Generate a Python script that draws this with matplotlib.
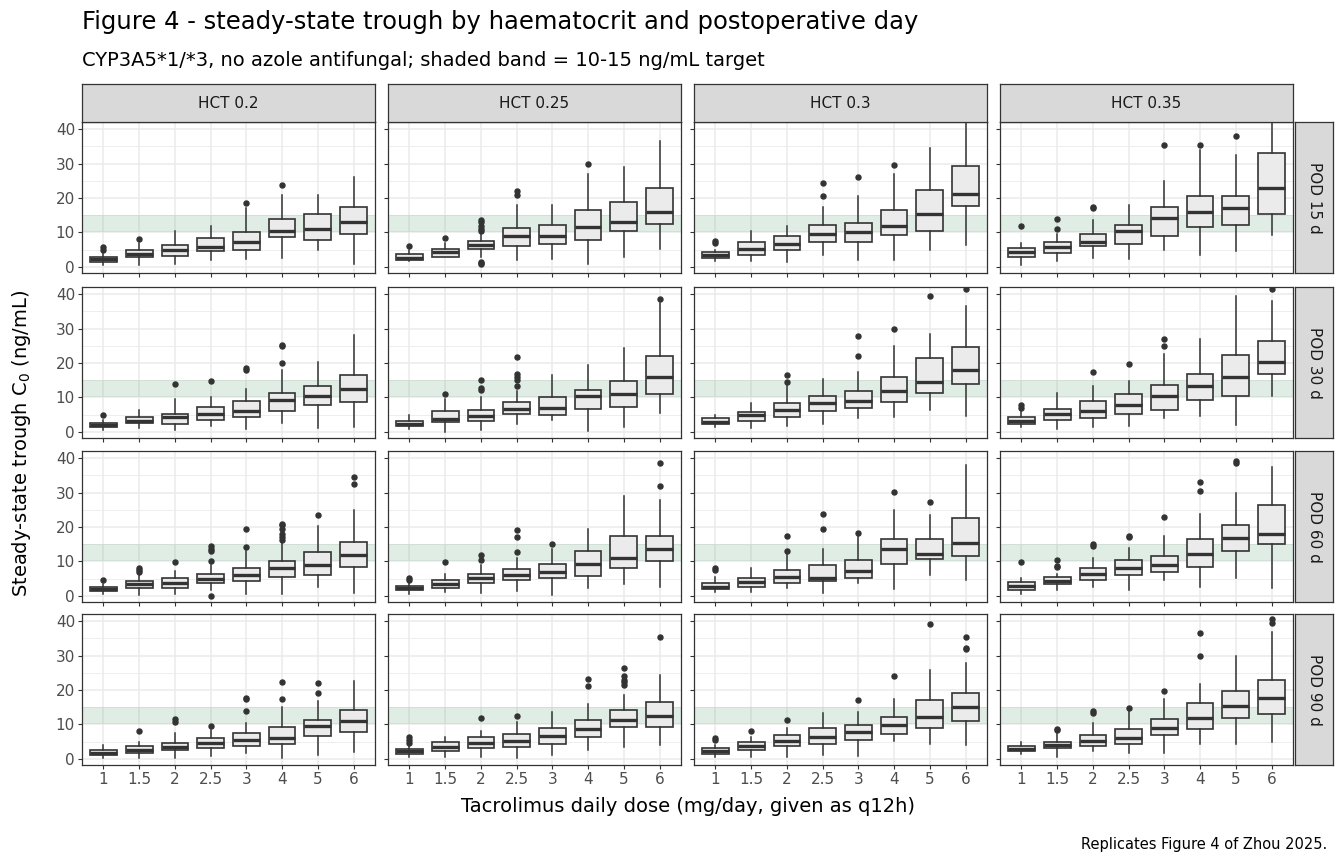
import matplotlib.pyplot as plt

W, H = 1344, 864

doses = ["1", "1.5", "2", "2.5", "3", "4", "5", "6"]
hcts = ["HCT 0.2", "HCT 0.25", "HCT 0.3", "HCT 0.35"]
pods = ["POD 15 d", "POD 30 d", "POD 60 d", "POD 90 d"]

# per panel: 8 boxes of (whisker low, q1, median, q3, whisker high), then outliers per box
pod15_hct020 = [(0.7, 1.5, 2.2, 3, 4.5), (0.5, 2.8, 3.8, 4.8, 7), (1, 3.3, 5, 6.5, 10.5), (2, 4.5, 5.8, 8.5, 12),
                (2.3, 5, 7.2, 10, 17), (2.5, 8.7, 10.5, 14, 21), (5, 7.8, 11, 15.5, 21), (0.8, 9.5, 13, 17.5, 26)]
pod15_hct020_out = [[5, 5.7], [8], [], [], [18.5], [23.8], [], []]
pod15_hct025 = [(1.8, 2, 2.7, 3.8, 5), (3, 3, 4.2, 5.2, 7), (3, 5.3, 6.3, 7.5, 9.5), (2, 6, 9, 11.2, 18),
                (2.3, 6.7, 9, 12.3, 18), (1, 7.8, 11.5, 16.5, 27), (2.8, 10.5, 13, 18.7, 29), (5.2, 12.5, 15.8, 23, 36.5)]
pod15_hct025_out = [[6.2], [8.5], [0.8, 1.2, 1.5, 10.5, 11, 12, 13, 13.5], [21, 22], [], [29.8], [], []]
pod15_hct030 = [(1.8, 2.6, 3.4, 4.2, 5), (1.8, 3.6, 5.3, 7.3, 10.3), (1.5, 4.8, 6.8, 9, 12), (3.5, 7.3, 9.5, 12.3, 17.5),
                (2, 7.1, 10.2, 12.7, 20.5), (2, 9.4, 12, 16.6, 27), (5, 10.4, 15.3, 22.2, 34.5), (6.4, 17.6, 21.3, 29.3, 45)]
pod15_hct030_out = [[7, 7.5], [], [], [20.5, 24.5], [26], [29.5], [], []]
pod15_hct035 = [(0.7, 3, 4.4, 5.5, 7), (1.7, 4.1, 5.9, 7.1, 9.5), (2.7, 6, 7.3, 9.7, 13.5), (2.3, 6.8, 10.5, 12.3, 18),
                (4.8, 8.9, 14.1, 17.4, 25), (3.5, 11.5, 16, 20.6, 34), (4.7, 12.3, 17, 20.6, 32.5), (9.4, 15.5, 23, 33.2, 45)]
pod15_hct035_out = [[12], [11, 14], [17, 17.5], [], [35.5], [35.5], [38], []]

pod30_hct020 = [(0.5, 1.3, 2, 2.7, 3.5), (1.2, 2.6, 3.3, 4.2, 6.3), (0.7, 2.4, 4.3, 5.3, 9.5), (1.8, 3.6, 5.2, 7.3, 10),
                (0.8, 4.4, 6, 8.9, 12.5), (2.5, 6.1, 9.3, 11.2, 18), (1.2, 7.8, 10.5, 13.3, 20.3), (1.3, 8.7, 12.6, 16.6, 28)]
pod30_hct020_out = [[4.8], [], [13.8], [14.7], [18, 18.5], [20, 24.8, 25.3], [], []]
pod30_hct025 = [(1, 1.6, 2.3, 3.2, 5), (0, 2.8, 3.9, 6, 9.5), (0.5, 3.2, 4.7, 6.5, 10), (2.3, 5.3, 6.8, 8.7, 12),
                (3.5, 5, 7, 10, 16.5), (0.2, 6.6, 10.4, 12.1, 19.5), (1.5, 7.3, 11, 14.8, 24.3), (5.5, 11, 15.8, 22, 37.4)]
pod30_hct025_out = [[], [11], [12.3, 12.8, 15], [13.3, 15, 16, 16.7, 21.7], [], [], [], [38.7]]
pod30_hct030 = [(1.5, 2.2, 3, 4.1, 5), (1.2, 3.2, 4.8, 5.8, 8.5), (1.8, 4.4, 6.4, 8.4, 13.5), (2.3, 6, 8.3, 10.5, 15.5),
                (4, 7, 9, 11.8, 17.5), (4.2, 8.7, 12, 16, 25), (6.5, 11.2, 14.5, 21.5, 28.5), (4.7, 13.8, 18, 24.7, 36.5)]
pod30_hct030_out = [[], [], [14.5, 16.5], [], [22, 27.8], [30], [39.3], [41.5]]
pod30_hct035 = [(1.3, 2.4, 3.2, 4.3, 6), (0.9, 3.4, 5.2, 6.8, 11.3), (1.4, 4.1, 6, 9, 13.4), (1.6, 5.3, 7.8, 11, 14.8),
                (4, 6.4, 10.5, 13.7, 22.5), (4.7, 9.2, 13.3, 16.9, 27), (2, 10.4, 15.8, 22.2, 39.5), (10.3, 16.8, 20.3, 26.4, 38)]
pod30_hct035_out = [[7, 7.8], [], [17.5], [19.6], [25, 27], [], [], [41.5]]

pod60_hct020 = [(0.7, 1.3, 2, 2.6, 3.5), (0.4, 2.3, 3.4, 4.4, 6.5), (0.7, 2.2, 3.9, 5.1, 7.3), (1.7, 3.7, 4.8, 6.4, 9),
                (0.7, 4.2, 6.1, 8.2, 13), (0.5, 5.6, 8.2, 10.1, 15.5), (2.5, 6.2, 9.1, 12.8, 20.2), (1, 8.5, 12, 15.6, 25)]
pod60_hct020_out = [[4.7], [7, 7.5, 8], [9.9], [0, 10.2, 13, 13.7, 14.5], [14.3, 19.3],
                    [16.3, 17, 18, 19.5, 20.5, 21], [23.5], [32.5, 34.6]]
pod60_hct025 = [(0.5, 1.7, 2.3, 3, 3.8), (1.2, 2.4, 3.4, 4.5, 6.5), (0.9, 3.9, 5.3, 6.4, 9), (1.5, 4.6, 6, 7.8, 11),
                (0.2, 5.3, 7, 9.3, 13.5), (2.3, 5.9, 9.4, 12.9, 19.3), (3.6, 8.1, 11, 17.4, 29), (2.7, 10.1, 13.7, 17.4, 27.8)]
pod60_hct025_out = [[4.5, 5.3], [9.9], [10.3, 12], [12.8, 17, 19], [15.2], [], [], [32, 38.5]]
pod60_hct030 = [(1.2, 1.9, 2.7, 3.8, 5.5), (1.2, 2.7, 4.1, 5.2, 8.2), (2.3, 3.8, 5.6, 7.5, 12.5), (0.8, 4.3, 5.3, 8.9, 13.5),
                (3.8, 5.3, 7.3, 10.3, 17.5), (2, 9.3, 13.5, 16.6, 25), (6, 10.6, 12.3, 16.5, 23.5), (4.5, 11.5, 15.5, 22.5, 38)]
pod60_hct030_out = [[7.5, 8], [], [13, 17.5], [19.5, 23.8], [18.3], [30.3], [27.3], []]
pod60_hct035 = [(0.6, 1.6, 2.8, 4, 5.3), (1.7, 3.6, 4.4, 5.4, 6.5), (2.6, 4.5, 6.3, 8.2, 11), (1.8, 6.2, 8.2, 10.3, 13.8),
                (4.6, 6.9, 8.9, 11.7, 17.5), (2.6, 8.4, 12.2, 16.4, 23.8), (5.1, 13, 16.8, 20.7, 30), (2.4, 15, 18.1, 26.4, 37.3)]
pod60_hct035_out = [[9.8], [8.3, 8.8, 10.3], [14.5, 15], [17, 17.4], [22.8], [30.5, 33], [38.7, 39.2], []]

pod90_hct020 = [(0.4, 1.2, 1.8, 2.6, 4), (0.3, 1.7, 2.6, 3.7, 5), (0.4, 2.6, 3.6, 4.7, 7.5), (1, 3.3, 4.6, 6, 8.4),
                (1.8, 3.9, 5.5, 7.6, 10.5), (0.3, 4.3, 6.2, 9.2, 15), (1.2, 6.8, 9.7, 11.3, 16.8), (2.1, 7.8, 11, 14.1, 22.7)]
pod90_hct020_out = [[], [8], [10.7, 11.5], [9.7], [13.8, 17.3, 17.7], [17.3, 22.3], [19, 21.9], []]
pod90_hct025 = [(0.5, 1.5, 2.2, 2.9, 3.7), (0.7, 2.3, 3.5, 4.9, 6.5), (0.5, 3.1, 4.5, 6.4, 8), (0.2, 3.6, 5.3, 7.2, 10.8),
                (1.1, 4.4, 6.8, 9, 13.5), (2.7, 6.4, 8.6, 11.3, 16), (3.6, 9.2, 11.2, 14.2, 18.5), (4, 9.3, 12.5, 16.4, 24.5)]
pod90_hct025_out = [[4.5, 5.5, 6.5], [], [12], [12.5], [], [21.3, 23.2], [21.5, 22.2, 23, 24, 26.4], [35.5]]
pod90_hct030 = [(0.5, 1.5, 2.4, 3.3, 4), (0.5, 2.7, 3.7, 4.9, 6.5), (0.7, 3.8, 5.2, 6.9, 9), (1.2, 4.3, 6.4, 9.1, 13.3),
                (1, 5.5, 7.7, 9.9, 13.6), (5.1, 7.2, 9.8, 12.1, 17.5), (4.2, 8.9, 12.3, 17, 25.7), (4.1, 11.1, 15, 19, 27.8)]
pod90_hct030_out = [[5.5, 6], [8], [11.2], [], [17.2], [24.1], [39.2], [31.8, 32.3, 35.5]]
pod90_hct035 = [(1.5, 2.2, 2.9, 3.9, 5), (0.7, 3.1, 4.1, 5, 8), (2.2, 3.8, 5.3, 6.9, 10.5), (1.8, 4.3, 6.1, 8.8, 14.5),
                (1.7, 7, 9, 11.5, 17.5), (4.3, 8.7, 12, 16.1, 21.8), (4.2, 11.9, 15.5, 19.6, 29.9), (5, 13.1, 17.8, 22.8, 36.8)]
pod90_hct035_out = [[], [8.5, 8.8], [13.2, 13.8], [14.9], [19.7], [30, 36.4], [], [39.5, 40.5]]

panels = [
    [(pod15_hct020, pod15_hct020_out), (pod15_hct025, pod15_hct025_out), (pod15_hct030, pod15_hct030_out), (pod15_hct035, pod15_hct035_out)],
    [(pod30_hct020, pod30_hct020_out), (pod30_hct025, pod30_hct025_out), (pod30_hct030, pod30_hct030_out), (pod30_hct035, pod30_hct035_out)],
    [(pod60_hct020, pod60_hct020_out), (pod60_hct025, pod60_hct025_out), (pod60_hct030, pod60_hct030_out), (pod60_hct035, pod60_hct035_out)],
    [(pod90_hct020, pod90_hct020_out), (pod90_hct025, pod90_hct025_out), (pod90_hct030, pod90_hct030_out), (pod90_hct035, pod90_hct035_out)],
]

target_lo, target_hi = 10, 15

plt.rcParams["font.family"] = "DejaVu Sans"
fig = plt.figure(figsize=(W / 100, H / 100), dpi=100)

col_left = [82, 388, 694, 1000]
row_top = [122, 287, 451, 614]
pw, ph = 293, 151
GRID = "#EBEBEB"
DARK = "#333333"
TXT = "#4D4D4D"


def px_axes(x, y, w, h):
    return fig.add_axes([x / W, 1 - (y + h) / H, w / W, h / H])


def strip(x, y, w, h, label, rot):
    sa = px_axes(x, y, w, h)
    sa.set_facecolor("#D9D9D9")
    sa.set_xticks([])
    sa.set_yticks([])
    for s in sa.spines.values():
        s.set_color(DARK)
        s.set_linewidth(0.9)
    sa.text(0.5, 0.5, label, ha="center", va="center", fontsize=11, color="#1A1A1A",
            rotation=rot, transform=sa.transAxes)


for r in range(4):
    for c in range(4):
        stats, outs = panels[r][c]
        ax = px_axes(col_left[c], row_top[r], pw, ph)
        ax.set_xlim(0.4, len(doses) + 0.6)
        ax.set_ylim(-1.75, 42.05)
        ax.set_yticks([0, 10, 20, 30, 40])
        ax.set_yticks([5, 15, 25, 35], minor=True)
        ax.set_xticks(range(1, len(doses) + 1))
        ax.grid(True, which="major", color=GRID, lw=1.1, zorder=0)
        ax.grid(True, which="minor", axis="y", color=GRID, lw=0.6, zorder=0)
        ax.set_axisbelow(True)
        ax.axhspan(target_lo, target_hi, color="#2E8B57", alpha=0.15, lw=0, zorder=1)
        bxp = [dict(whislo=s[0], q1=s[1], med=s[2], q3=s[3], whishi=s[4], fliers=o)
               for s, o in zip(stats, outs)]
        ax.bxp(bxp, positions=range(1, len(doses) + 1), widths=0.75, patch_artist=True,
               showcaps=False,
               boxprops=dict(facecolor="#EBEBEB", edgecolor=DARK, lw=1.2),
               medianprops=dict(color=DARK, lw=2.4),
               whiskerprops=dict(color=DARK, lw=1.1),
               flierprops=dict(marker="o", markerfacecolor=DARK, markeredgecolor=DARK, markersize=3.6),
               manage_ticks=False, zorder=3)
        for s in ax.spines.values():
            s.set_color(DARK)
            s.set_linewidth(0.9)
        ax.tick_params(which="major", length=3, color=DARK, labelcolor=TXT, labelsize=11, pad=2)
        ax.tick_params(which="minor", length=0)
        if c == 0:
            ax.set_yticklabels(["0", "10", "20", "30", "40"])
        else:
            ax.set_yticklabels([])
        if r == 3:
            ax.set_xticklabels(doses)
        else:
            ax.set_xticklabels([])
        if r == 0:
            strip(col_left[c], 84, pw, 38, hcts[c], 0)
        if c == 3:
            strip(1295, row_top[r], 38, ph, pods[r], -90)

fig.text(82 / W, 1 - 22 / H, "Figure 4 - steady-state trough by haematocrit and postoperative day",
         fontsize=17.5, va="center", ha="left")
fig.text(82 / W, 1 - 60 / H, "CYP3A5*1/*3, no azole antifungal; shaded band = 10-15 ng/mL target",
         fontsize=14, va="center", ha="left")
fig.text(22 / W, 1 - 443 / H, "Steady-state trough C$_0$ (ng/mL)", fontsize=14, rotation=90,
         va="center", ha="center")
fig.text(688 / W, 1 - 806 / H, "Tacrolimus daily dose (mg/day, given as q12h)", fontsize=14,
         va="center", ha="center")
fig.text(1327 / W, 1 - 845 / H, "Replicates Figure 4 of Zhou 2025.", fontsize=10.5,
         va="center", ha="right")

fig.savefig("out.png", dpi=100)
